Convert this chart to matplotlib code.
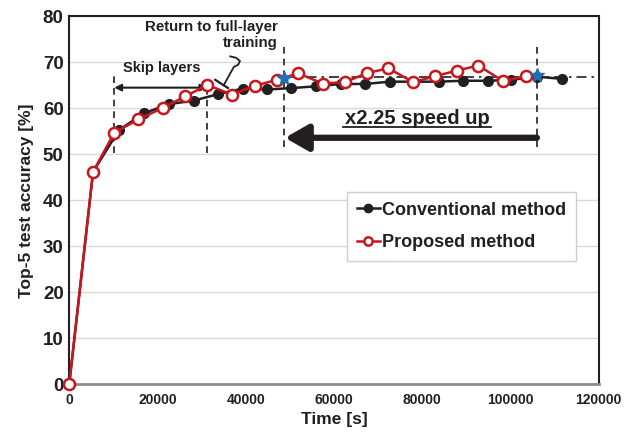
import matplotlib
matplotlib.use("Agg")
from matplotlib import pyplot as plt
from matplotlib import rcParams

rcParams["font.family"] = ["Liberation Sans", "DejaVu Sans"]
rcParams["font.weight"] = "bold"

WIDTH, HEIGHT = 641, 442
DPI = 100
INK = "#231f20"
RED = "#c8161d"

# time in seconds
conv_time = [0, 5400, 11300, 16900, 22500, 28300, 33800, 39300, 44800, 50300, 56000,
             61600, 67100, 72600, 78000, 83800, 89200, 94800, 100200, 106000, 111700]
conv_acc = [0, 46.2, 55.3, 58.9, 60.9, 61.7, 63.1, 64.3, 64.1, 64.4, 64.8,
            65.3, 65.3, 65.8, 65.8, 65.8, 66.0, 66.0, 66.2, 66.9, 66.4]

prop_time = [0, 5400, 10200, 15700, 21200, 26300, 31300, 36800, 42100, 47000, 51900,
             57500, 62500, 67600, 72300, 78000, 83000, 87800, 92700, 98400, 103500]
prop_acc = [0, 46.2, 54.7, 57.6, 60.1, 62.6, 65.1, 63.0, 64.9, 66.2, 67.6,
            65.4, 65.7, 67.7, 68.7, 65.7, 67.0, 68.2, 69.3, 65.9, 67.0]

star_time = [48700, 106000]
star_acc = [66.7, 67.3]

# dashed markers: (x, y bottom, y top)
vlines = [(10200, 50.3, 67.0), (31300, 50.3, 65.2), (48700, 51.6, 74.3), (106000, 51.7, 73.6)]
target_acc = 66.8


def draw():
    fig = plt.figure(figsize=(WIDTH / DPI, HEIGHT / DPI), dpi=DPI)
    ax = fig.add_axes([0.108, 0.1305, 0.826, 0.8325])

    ax.set_xlim(0, 120000)
    ax.set_ylim(0, 80)
    ax.set_yticks(range(0, 81, 10))
    ax.set_xticks(range(0, 120001, 20000))
    ax.grid(axis="y", color="#d9d9d9", lw=1)
    ax.set_axisbelow(True)

    for side in ["left", "right", "top"]:
        ax.spines[side].set_color(INK)
        ax.spines[side].set_linewidth(1.5)
    ax.spines["bottom"].set_color("#8c8c8c")
    ax.spines["bottom"].set_linewidth(2)
    ax.tick_params(length=0, colors=INK)
    ax.tick_params(axis="y", labelsize=13.5, pad=4)
    ax.tick_params(axis="x", labelsize=10, pad=6)
    for lab in ax.get_xticklabels() + ax.get_yticklabels():
        lab.set_fontweight("bold")

    ax.set_ylabel("Top-5 test accuracy [%]", fontsize=12.5, fontweight="bold", color=INK, labelpad=6)
    ax.set_xlabel("Time [s]", fontsize=12.5, fontweight="bold", color=INK, labelpad=4)

    # target line
    ax.plot([star_time[0], 120000], [target_acc, target_acc], color=INK, lw=1.2,
            ls=(0, (6, 3, 1.5, 3)), zorder=2)

    for x, y0, y1 in vlines:
        ax.plot([x, x], [y0, y1], color=INK, lw=1.2, ls=(0, (4, 3)), zorder=2)

    ax.plot(conv_time, conv_acc, color=INK, lw=1.8, marker="o", ms=7,
            mfc=INK, mec=INK, label="Conventional method", zorder=3, clip_on=False)
    ax.plot(prop_time, prop_acc, color=RED, lw=1.8, marker="o", ms=8,
            mfc="white", mec=RED, mew=1.8, label="Proposed method", zorder=4, clip_on=False)
    ax.plot(star_time, star_acc, ls="none", marker="*", ms=10, color="#1f6fb2", zorder=5)

    # skip layers arrow
    ax.annotate("", xy=(10200, 64.5), xytext=(31300, 64.5),
                arrowprops=dict(arrowstyle="<|-|>", color=INK, lw=1.5, mutation_scale=10,
                                shrinkA=0, shrinkB=0))
    ax.text(20900, 68.7, "Skip layers", ha="center", va="center", fontsize=10.5,
            fontweight="bold", color=INK)

    ax.text(47200, 76.0, "Return to full-layer\ntraining", ha="right", va="center",
            multialignment="right", fontsize=10.8, fontweight="bold", color=INK, linespacing=1.2)
    ax.plot([36500, 37800, 38700, 38300, 37300, 35000],
            [71.3, 71.0, 70.3, 69.5, 69.0, 65.0], color=INK, lw=1.3)
    ax.plot([33100, 36000], [66.2, 64.4], color=INK, lw=1.6)

    # speed up annotation
    ax.text(78800, 57.9, "x2.25 speed up", ha="center", va="center", fontsize=14.5,
            fontweight="bold", color=INK)
    ax.plot([62000, 95600], [55.9, 55.9], color=INK, lw=1.3)
    ax.annotate("", xy=(48900, 53.6), xytext=(106000, 53.6),
                arrowprops=dict(arrowstyle="-|>,head_length=0.7,head_width=0.4", color=INK,
                                lw=4.5, mutation_scale=20, shrinkA=0, shrinkB=0))

    leg = ax.legend(loc="upper left", bbox_to_anchor=(0.524, 0.523), fontsize=13,
                    handlelength=1.3, handletextpad=0.1, borderpad=0.55, labelspacing=0.85,
                    fancybox=False, framealpha=1, edgecolor="#cfcfcf", borderaxespad=0)
    for t in leg.get_texts():
        t.set_fontweight("bold")
        t.set_color(INK)
    for h in leg.get_lines():
        h.set_markersize(6)

    fig.savefig("out.png", dpi=DPI)
    plt.close(fig)


if __name__ == "__main__":
    draw()
